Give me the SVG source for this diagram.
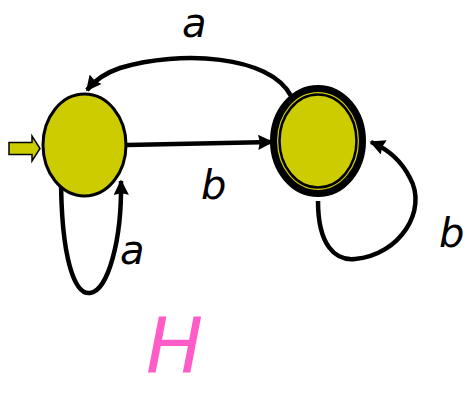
<svg xmlns="http://www.w3.org/2000/svg" width="469" height="393" viewBox="0 0 469 393">
<style>
.st{fill:#CCCC00;stroke:#000}
.e{fill:none;stroke:#000;stroke-width:4.5;marker-end:url(#ah)}
.lb{font-family:"DejaVu Sans","Liberation Sans",sans-serif;font-style:italic;font-size:40px;fill:#000}
</style>
<defs>
<marker id="ah" viewBox="0 0 10 10" refX="9" refY="5" markerWidth="4" markerHeight="3.4" orient="auto" markerUnits="strokeWidth">
<path d="M0,0 L10,5 L0,10 L1,5 Z" fill="#000"/>
</marker>
</defs>
<rect width="469" height="393" fill="#fff"/>
<g id="connectors">
<path class="e" d="M127,145 L272,142"/>
<path class="e" d="M291,96 C 270,55 180,50 120,68 C 105,73 95,80 87,90"/>
<path class="e" d="M61,175 C 61,260 75,295 90,293 C 108,291 122,240 121,181"/>
<path class="e" d="M318,201 C 318,245 335,261 355,259 C 400,255 428,210 410,178 C 402,162 390,150 371,142"/>
</g>
<g id="start">
<path d="M9,142.5 L32,142.5 L32,136 L40,148.5 L32,161 L32,154.5 L9,154.5 Z" fill="#CCCC00" stroke="#000" stroke-width="1.5"/>
</g>
<g id="q0">
<ellipse class="st" cx="84.5" cy="145" rx="41.5" ry="51" stroke-width="3"/>
</g>
<g id="q1">
<ellipse class="st" cx="318" cy="141" rx="44.5" ry="52.5" stroke-width="7"/>
<ellipse cx="318" cy="141" rx="38.5" ry="46.5" fill="none" stroke="#000" stroke-width="2.5"/>
</g>
<g id="labels">
<text class="lb" x="182" y="37" font-size="38">a</text>
<text class="lb" x="201" y="199">b</text>
<text class="lb" x="120" y="264">a</text>
<text class="lb" x="439" y="247">b</text>
<text x="146" y="373" font-family="DejaVu Sans,sans-serif" font-style="italic" font-size="76" fill="#FF5CC8">H</text>
</g>
</svg>
